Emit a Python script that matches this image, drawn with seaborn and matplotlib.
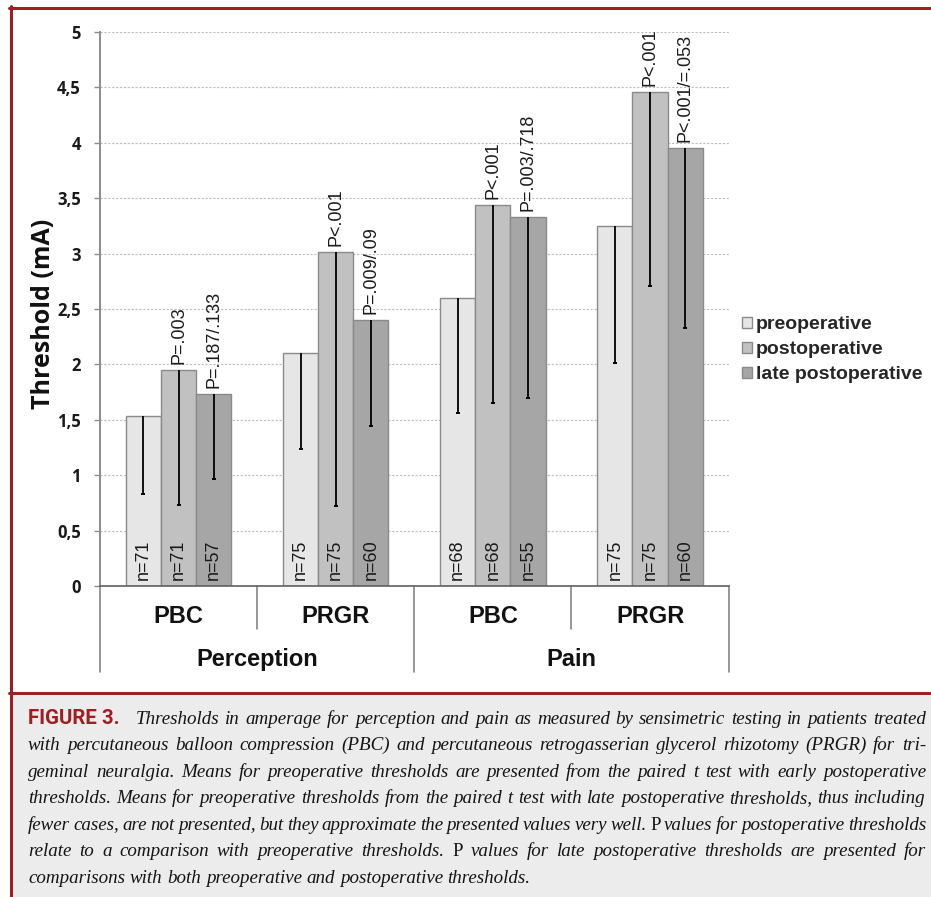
import numpy as np
import pandas as pd
import matplotlib
matplotlib.use("Agg")
import matplotlib.pyplot as plt
import seaborn as sns
from matplotlib.lines import Line2D
from matplotlib.patches import Rectangle
from matplotlib import transforms
from matplotlib.font_manager import FontProperties

# ---------------- data ----------------
modality = ["Perception", "Perception", "Pain", "Pain"]
procedure = ["PBC", "PRGR", "PBC", "PRGR"]
phases = ["preoperative", "postoperative", "late postoperative"]

mean_pre = [1.53, 2.10, 2.60, 3.25]
mean_post = [1.95, 3.01, 3.44, 4.46]
mean_late = [1.73, 2.40, 3.33, 3.95]

sd_pre = [0.70, 0.86, 1.04, 1.24]
sd_post = [1.22, 2.29, 1.79, 1.75]
sd_late = [0.76, 0.96, 1.63, 1.62]

n_pre = [71, 75, 68, 75]
n_post = [71, 75, 68, 75]
n_late = [57, 60, 55, 60]

p_post = ["P=.003", "P<.001", "P<.001", "P<.001"]
p_late = ["P=.187/.133", "P=.009/.09", "P=.003/.718", "P<.001/=.053"]

ytick_vals = [0, 0.5, 1, 1.5, 2, 2.5, 3, 3.5, 4, 4.5, 5]
ytick_labels = ["0", "0,5", "1", "1,5", "2", "2,5", "3", "3,5", "4", "4,5", "5"]

caption_head = "FIGURE 3."
caption_lines = [
    "Thresholds in amperage for perception and pain as measured by sensimetric testing in patients treated",
    "with percutaneous balloon compression (PBC) and percutaneous retrogasserian glycerol rhizotomy (PRGR) for tri-",
    "geminal neuralgia. Means for preoperative thresholds are presented from the paired t test with early postoperative",
    "thresholds. Means for preoperative thresholds from the paired t test with late postoperative thresholds, thus including",
    "fewer cases, are not presented, but they approximate the presented values very well. ^P values for postoperative thresholds",
    "relate to a comparison with preoperative thresholds. ^P values for late postoperative thresholds are presented for",
    "comparisons with both preoperative and postoperative thresholds.",
]

colors = ["#e6e6e6", "#c1c1c1", "#a6a6a6"]
RED = "#a21d22"

# ---------------- figure ----------------
W, H = 931, 897
sns.set_theme(style="white")
plt.rcParams["font.family"] = ["Liberation Sans", "DejaVu Sans"]

fig = plt.figure(figsize=(W / 100, H / 100), dpi=100)
fig.patch.set_facecolor("white")


def fx(x):
    return x / W


def fy(y):
    return 1 - y / H


# frame & caption box
fig.add_artist(Rectangle((fx(12), 0), 1 - fx(12), fy(694), transform=fig.transFigure,
                         facecolor="#ececec", edgecolor="none", zorder=0))
lw_frame = 3 * 0.72
fig.add_artist(Line2D([fx(9), 1], [fy(8), fy(8)], transform=fig.transFigure, color=RED, lw=lw_frame))
fig.add_artist(Line2D([fx(9), 1], [fy(692.5), fy(692.5)], transform=fig.transFigure, color=RED, lw=lw_frame))
fig.add_artist(Line2D([fx(10.5), fx(10.5)], [fy(6.5), 0], transform=fig.transFigure, color=RED, lw=lw_frame))

ax = fig.add_axes([fx(100), fy(586), (728.6 - 100) / W, (586 - 32) / H])

keys = [m + " " + p for m, p in zip(modality, procedure)]
sds = [sd_pre, sd_post, sd_late]
ns = [n_pre, n_post, n_late]

df = pd.DataFrame({
    "group": keys * 3,
    "phase": [ph for ph in phases for _ in keys],
    "value": mean_pre + mean_post + mean_late,
})

sns.barplot(data=df, x="group", y="value", hue="phase", palette=colors, width=0.67,
            edgecolor="#8a8a8a", linewidth=1.0, errorbar=None, saturation=1,
            legend=False, ax=ax, zorder=2)
bar_containers = list(ax.containers)

ax.set_xlim(-0.5, 3.5)
ax.set_ylim(0, 5)
ax.set_axisbelow(True)
ax.yaxis.grid(True, color="#bdbdbd", linestyle=(0, (2, 1.5)), linewidth=0.8)
ax.xaxis.grid(False)
for s in ["top", "right"]:
    ax.spines[s].set_visible(False)
ax.spines["left"].set_color("#8c8c8c")
ax.spines["left"].set_linewidth(1.4)
ax.spines["bottom"].set_color("#606060")
ax.spines["bottom"].set_linewidth(1.2)

tick_font = FontProperties(family="Open Sans", weight="bold", size=12)
ax.set_yticks(ytick_vals)
ax.set_yticklabels(ytick_labels, fontproperties=tick_font, color="#1a1a1a")
ax.tick_params(axis="y", left=True, length=4.3, width=1, color="#8c8c8c", pad=9.4)
ax.tick_params(axis="x", bottom=False, labelbottom=False)
ax.set_xlabel("")
ax.set_ylabel("")

# error bars (lower side only) and labels
for c, sd, n in zip(bar_containers, sds, ns):
    xs = [p.get_x() + p.get_width() / 2 for p in c]
    ys = [p.get_height() for p in c]
    ax.errorbar(xs, ys, yerr=[sd, [0] * len(sd)], fmt="none", ecolor="black",
                elinewidth=1.3, capsize=0, zorder=3)
    lows = [y - s for y, s in zip(ys, sd)]
    ax.plot(xs, lows, linestyle="none", marker="_", markersize=3.5, markeredgewidth=1.4,
            color="black", zorder=3)
    for x, k in zip(xs, n):
        ax.annotate(f"n={k}", (x, 0), xytext=(0, 4), textcoords="offset points",
                    rotation=90, ha="center", va="bottom", fontsize=13, color="#1a1a1a", zorder=4)

for c, labs in zip(bar_containers[1:], [p_post, p_late]):
    for p, lab in zip(c, labs):
        x = p.get_x() + p.get_width() / 2
        ax.annotate(lab, (x, p.get_height()), xytext=(0, 4.5), textcoords="offset points",
                    rotation=90, ha="center", va="bottom", fontsize=13, color="#1a1a1a", zorder=4)

# two-level category axis
blend = transforms.blended_transform_factory(ax.transData, fig.transFigure)
bounds = np.arange(len(keys) + 1) - 0.5
for i, b in enumerate(bounds):
    end = 672 if i % 2 == 0 else 629
    ax.plot([b, b], [fy(586), fy(end)], transform=blend, color="#7a7a7a", lw=1.1, clip_on=False)

cat_font = FontProperties(family="Liberation Sans", weight="bold", size=17)
for i, proc in enumerate(procedure):
    ax.text(i, fy(623), proc, transform=blend, ha="center", va="baseline",
            fontproperties=cat_font, color="#111111")
seen = []
for m in modality:
    if m not in seen:
        seen.append(m)
for m in seen:
    idx = [i for i, mm in enumerate(modality) if mm == m]
    ax.text(np.mean(idx), fy(666), m, transform=blend, ha="center", va="baseline",
            fontproperties=cat_font, color="#111111")

# y label
fig.text(fx(44), fy(313.5), "Threshold (mA)", rotation=90, ha="center", va="center",
         fontproperties=FontProperties(family="Open Sans", weight="bold", size=18), color="#111111")

# legend
handles = [c.patches[0] for c in bar_containers]
ax.legend(handles, phases, loc="upper left", bbox_to_anchor=(fx(742), fy(316)),
          bbox_transform=fig.transFigure, frameon=False,
          prop=FontProperties(family="Liberation Sans", weight="bold", size=14),
          handlelength=0.5, handleheight=0.5, handletextpad=0.22, labelspacing=0.42,
          borderpad=0, borderaxespad=0)

# caption (justified)
renderer = fig.canvas.get_renderer()
SERIF = ["Liberation Serif", "DejaVu Serif"]


def wpx(s, prop):
    w, h, d = renderer.get_text_width_height_descent(s, prop, ismath=False)
    return w


def make_prop(style, fs):
    return FontProperties(family=SERIF, style="italic" if style == "it" else "normal", size=fs)


def words_of(line):
    out = []
    for w in line.split(" "):
        if w.startswith("^"):
            out.append((w[1:], "up"))
        else:
            out.append((w, "it"))
    return out


left, right = 28, 926
line_start = [136] + [left] * (len(caption_lines) - 1)
baselines = [723.5 + 26.5 * i for i in range(len(caption_lines))]

base_fs = 10
sp0 = wpx(" ", make_prop("it", base_fs))
ratios = []
for ln, x0 in zip(caption_lines[:-1], line_start[:-1]):
    ws = words_of(ln)
    nat = sum(wpx(w, make_prop(s, base_fs)) for w, s in ws) + (len(ws) - 1) * sp0 * 0.55
    ratios.append((right - x0) / nat)
last_ws = words_of(caption_lines[-1])
last_ratio = 505 / (sum(wpx(w, make_prop(s, base_fs)) for w, s in last_ws) + (len(last_ws) - 1) * sp0)
fs = base_fs * min(min(ratios), last_ratio)

head_prop = FontProperties(family="Roboto", weight="bold", size=14)
head_fs = 14 * 92 / wpx(caption_head, head_prop)
head_prop = FontProperties(family="Roboto", weight="bold", size=head_fs)
fig.text(fx(left), fy(baselines[0]), caption_head, fontproperties=head_prop, color=RED,
         ha="left", va="baseline")

for k, (ln, x0, yb) in enumerate(zip(caption_lines, line_start, baselines)):
    ws = words_of(ln)
    widths = [wpx(w, make_prop(s, fs)) for w, s in ws]
    if k < len(caption_lines) - 1:
        gap = (right - x0 - sum(widths)) / (len(ws) - 1)
    else:
        gap = wpx(" ", make_prop("it", fs))
    x = x0
    for (w, s), wd in zip(ws, widths):
        fig.text(fx(x), fy(yb), w, fontproperties=make_prop(s, fs), color="#141414",
                 ha="left", va="baseline")
        x += wd + gap

fig.savefig("out.png", dpi=100)
